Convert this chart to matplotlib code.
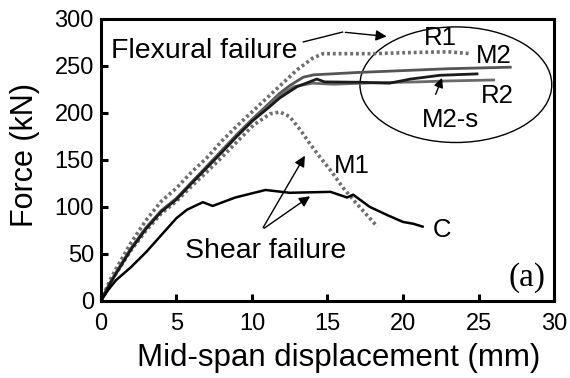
import numpy as np
import matplotlib.pyplot as plt
from matplotlib.patches import Ellipse

plt.rcParams['font.family'] = ['Liberation Sans', 'DejaVu Sans']

# load-displacement curves, displacement in mm and force in kN
r1_x = [0, 0.6, 1, 2, 3, 4, 5, 6, 7, 8, 9, 10, 11, 12, 13, 14, 14.7, 16, 18, 20, 23, 24.5]
r1_y = [0, 22, 34, 62, 86, 106, 120, 137, 152, 170, 186, 201, 216, 231, 246, 258, 263, 263, 263, 264, 265, 263]

m1_x = [0, 0.6, 1, 2, 3, 4, 5, 6, 7, 7.9, 9, 10.1, 11.2, 11.85, 12.5, 13.2, 13.8, 14.5, 15.2, 16.0, 16.9, 18.3]
m1_y = [0, 19, 29, 54, 75, 93, 106, 122, 137, 151, 169, 187, 199, 201, 196, 182, 168, 153, 139, 121, 104, 79]

m2_x = [0, 0.6, 1, 2, 3, 4, 5, 6, 8, 9, 10, 11.2, 11.85, 12.5, 13.4, 14.1, 17, 20, 23, 27.1]
m2_y = [0, 19, 30, 56, 78, 96, 109, 126, 160, 177, 193, 211, 221, 229, 238, 240.5, 243, 245, 247, 248.6]

m2s_x = [0, 0.6, 1, 2, 3, 4, 5, 6, 8, 9, 10, 11.2, 11.85, 13, 14.3, 14.8, 17.15, 19.1, 20.5, 22.45, 24.9]
m2s_y = [0, 18, 29, 55, 77, 95, 108, 125, 158, 175, 191, 207, 216, 228, 236, 233, 232.6, 231.6, 236, 240, 241.5]

r2_x = [0, 0.6, 1, 2, 3, 4, 5, 6, 8, 9, 10, 11.2, 11.85, 12.8, 14.0, 15.4, 18, 21, 23, 26.0]
r2_y = [0, 19, 30, 56, 78, 96, 109, 126, 159, 176, 192, 209, 219, 228, 231.6, 230.5, 232, 233, 234, 235]

c_x = [0, 0.5, 1, 2, 3, 4, 5, 5.7, 6.75, 7.4, 8.9, 10.9, 12.5, 15.2, 16.3, 16.7, 17.8, 19, 20, 20.7, 21.3]
c_y = [0, 12, 22, 36, 52, 70, 88, 97, 105, 101, 110, 118, 115, 116, 110, 113, 100, 91, 84, 82, 79]

fig, ax = plt.subplots(figsize=(5.7, 3.78), dpi=100)
fig.subplots_adjust(left=0.177, right=0.972, top=0.95, bottom=0.204)

ax.plot(m1_x, m1_y, color='#6e6e6e', lw=2.6, ls=(0, (0.8, 0.8)))
ax.plot(r1_x, r1_y, color='#6e6e6e', lw=2.6, ls=(0, (0.8, 0.8)))
ax.plot(m2_x, m2_y, color='#555555', lw=2.0)
ax.plot(r2_x, r2_y, color='#6a6a6a', lw=2.0)
ax.plot(m2s_x, m2s_y, color='#1a1a1a', lw=2.0)
ax.plot(c_x, c_y, color='black', lw=1.8)

ax.set_xlim(0, 30)
ax.set_ylim(0, 300)
ax.set_xticks(range(0, 31, 5))
ax.set_yticks(range(0, 301, 50))
ax.tick_params(direction='in', length=5, width=2.2, labelsize=17)
ax.tick_params(axis='x', pad=9)
ax.tick_params(axis='y', pad=5)
for s in ax.spines.values():
    s.set_linewidth(2.2)

ax.set_xlabel('Mid-span displacement (mm)', fontsize=22.5)
ax.set_ylabel('Force (kN)', fontsize=22)
ax.xaxis.set_label_coords(0.525, -0.15)
ax.yaxis.set_label_coords(-0.135, 0.518)

# annotations
ax.add_patch(Ellipse((23.5, 230), 12.7, 123, fill=False, lw=1, color='black'))
ax.text(0.7, 258.5, 'Flexural failure', fontsize=20.5, va='baseline')
ax.plot([13.4, 16.0], [275.5, 286], color='black', lw=1)
ax.annotate('', xy=(19.1, 281), xytext=(16.0, 286),
            arrowprops=dict(arrowstyle='-|>', color='black', lw=1, mutation_scale=16))
ax.annotate('', xy=(22.65, 240), xytext=(22.1, 217),
            arrowprops=dict(arrowstyle='-|>', color='black', lw=1, mutation_scale=14))

lab = dict(fontsize=18.5, ha='center', va='baseline')
ax.text(23.15, 185, 'M2-s', **lab)
ax.text(22.45, 272, 'R1', **lab)
ax.text(26.0, 253, 'M2', **lab)
ax.text(26.26, 210.6, 'R2', **lab)
ax.text(16.6, 136, 'M1', **lab)
ax.text(22.6, 68, 'C', **lab)

ax.text(10.9, 45.7, 'Shear failure', fontsize=20.5, ha='center', va='baseline')
for end in [(13.6, 157), (14.0, 113)]:
    ax.annotate('', xy=end, xytext=(10.65, 75.5),
                arrowprops=dict(arrowstyle='-|>', color='black', lw=1, mutation_scale=16))

ax.text(28.2, 16, '(a)', fontsize=24, family='Liberation Serif', ha='center', va='baseline')

fig.savefig('out.png', dpi=100)
